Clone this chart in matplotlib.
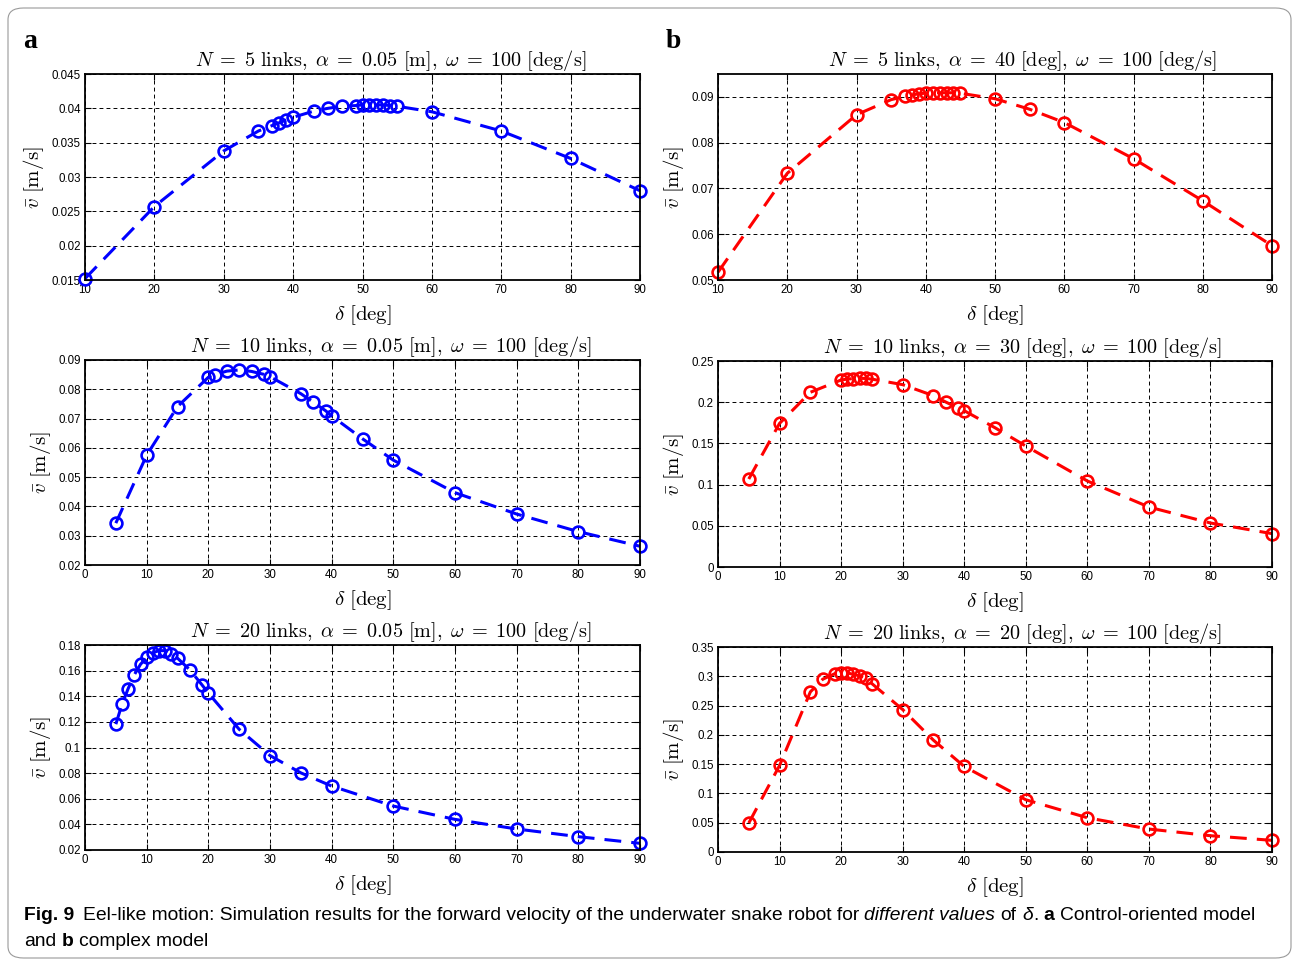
import matplotlib
matplotlib.use('Agg')
import matplotlib.pyplot as plt
from matplotlib.patches import FancyBboxPatch

plt.rcParams['mathtext.fontset'] = 'cm'
plt.rcParams['font.family'] = ['Liberation Sans', 'DejaVu Sans']

# ---- data ----
# a: control-oriented model (blue)
a1_x = [10, 20, 30, 35, 37, 38, 39, 40, 43, 45, 47, 49, 50, 51, 52, 53, 54, 55, 60, 70, 80, 90]
a1_y = [0.0152, 0.0257, 0.0338, 0.0367, 0.0375, 0.0379, 0.0383, 0.0387, 0.0396, 0.0400, 0.0403,
        0.0404, 0.0405, 0.0405, 0.0405, 0.0405, 0.0404, 0.0403, 0.0395, 0.0367, 0.0327, 0.0280]

a2_x = [5, 10, 15, 20, 21, 23, 25, 27, 29, 30, 35, 37, 39, 40, 45, 50, 60, 70, 80, 90]
a2_y = [0.0343, 0.0575, 0.0741, 0.0841, 0.0850, 0.0862, 0.0866, 0.0861, 0.0851, 0.0843,
        0.0785, 0.0756, 0.0727, 0.0709, 0.0631, 0.0558, 0.0447, 0.0374, 0.0314, 0.0264]

a3_x = [5, 6, 7, 8, 9, 10, 11, 12, 13, 14, 15, 17, 19, 20, 25, 30, 35, 40, 50, 60, 70, 80, 90]
a3_y = [0.1182, 0.1337, 0.1460, 0.1568, 0.1649, 0.1703, 0.1740, 0.1756, 0.1756, 0.1730, 0.1697,
        0.1606, 0.1487, 0.1425, 0.1142, 0.0937, 0.0802, 0.0699, 0.0543, 0.0439, 0.0364, 0.0304, 0.0252]

# b: complex model (red)
b1_x = [10, 20, 30, 35, 37, 38, 39, 40, 41, 42, 43, 44, 45, 50, 55, 60, 70, 80, 90]
b1_y = [0.0517, 0.0733, 0.0861, 0.0894, 0.0901, 0.0904, 0.0907, 0.0908, 0.0909, 0.0909, 0.0909,
        0.0909, 0.0908, 0.0896, 0.0873, 0.0844, 0.0765, 0.0673, 0.0575]

b2_x = [5, 10, 15, 20, 21, 22, 23, 24, 25, 30, 35, 37, 39, 40, 45, 50, 60, 70, 80, 90]
b2_y = [0.1068, 0.1743, 0.2120, 0.2270, 0.2280, 0.2287, 0.2290, 0.2288, 0.2280, 0.2213,
        0.2079, 0.2002, 0.1930, 0.1897, 0.1690, 0.1468, 0.1044, 0.0728, 0.0534, 0.0405]

b3_x = [5, 10, 15, 17, 19, 20, 21, 22, 23, 24, 25, 30, 35, 40, 50, 60, 70, 80, 90]
b3_y = [0.0494, 0.1477, 0.2733, 0.2949, 0.3046, 0.3050, 0.3057, 0.3034, 0.3006, 0.2972,
        0.2875, 0.2432, 0.1909, 0.1460, 0.0892, 0.0585, 0.0392, 0.0278, 0.0199]

titles = [r'$N\;=\;5\ \mathrm{links},\;\alpha\;=\;0.05\ [\mathrm{m}],\;\omega\;=\;100\ [\mathrm{deg/s}]$',
          r'$N\;=\;5\ \mathrm{links},\;\alpha\;=\;40\ [\mathrm{deg}],\;\omega\;=\;100\ [\mathrm{deg/s}]$',
          r'$N\;=\;10\ \mathrm{links},\;\alpha\;=\;0.05\ [\mathrm{m}],\;\omega\;=\;100\ [\mathrm{deg/s}]$',
          r'$N\;=\;10\ \mathrm{links},\;\alpha\;=\;30\ [\mathrm{deg}],\;\omega\;=\;100\ [\mathrm{deg/s}]$',
          r'$N\;=\;20\ \mathrm{links},\;\alpha\;=\;0.05\ [\mathrm{m}],\;\omega\;=\;100\ [\mathrm{deg/s}]$',
          r'$N\;=\;20\ \mathrm{links},\;\alpha\;=\;20\ [\mathrm{deg}],\;\omega\;=\;100\ [\mathrm{deg/s}]$']

xticks_a1 = [10, 20, 30, 40, 50, 60, 70, 80, 90]
xticks_full = [0, 10, 20, 30, 40, 50, 60, 70, 80, 90]

yt_a1 = [0.015, 0.02, 0.025, 0.03, 0.035, 0.04, 0.045]
yl_a1 = ['0.015', '0.02', '0.025', '0.03', '0.035', '0.04', '0.045']
yt_b1 = [0.05, 0.06, 0.07, 0.08, 0.09]
yl_b1 = ['0.05', '0.06', '0.07', '0.08', '0.09']
yt_a2 = [0.02, 0.03, 0.04, 0.05, 0.06, 0.07, 0.08, 0.09]
yl_a2 = ['0.02', '0.03', '0.04', '0.05', '0.06', '0.07', '0.08', '0.09']
yt_b2 = [0, 0.05, 0.1, 0.15, 0.2, 0.25]
yl_b2 = ['0', '0.05', '0.1', '0.15', '0.2', '0.25']
yt_a3 = [0.02, 0.04, 0.06, 0.08, 0.1, 0.12, 0.14, 0.16, 0.18]
yl_a3 = ['0.02', '0.04', '0.06', '0.08', '0.1', '0.12', '0.14', '0.16', '0.18']
yt_b3 = [0, 0.05, 0.1, 0.15, 0.2, 0.25, 0.3, 0.35]
yl_b3 = ['0', '0.05', '0.1', '0.15', '0.2', '0.25', '0.3', '0.35']

ylims = [(0.015, 0.045), (0.05, 0.095), (0.02, 0.09), (0, 0.25), (0.02, 0.18), (0, 0.35)]

W, H = 1293, 964
fig = plt.figure(figsize=(W / 100, H / 100), dpi=100)

# rounded frame around the whole figure
fig.patches.append(FancyBboxPatch((8 / W, 6 / H), 1283 / W, 950 / H,
                                  boxstyle='round,pad=0,rounding_size=0.012',
                                  transform=fig.transFigure, fill=False,
                                  edgecolor='#9a9a9a', linewidth=0.8))

# axes boxes in pixels: left, top, right, bottom
boxes = [(85, 74, 640, 280), (718, 74, 1272, 280),
         (85, 360, 640, 565), (718, 361, 1272, 567),
         (85, 645, 640, 850), (718, 647, 1272, 852)]

panels = [(a1_x, a1_y, 'b', xticks_a1, (10, 90), yt_a1, yl_a1),
          (b1_x, b1_y, 'r', xticks_a1, (10, 90), yt_b1, yl_b1),
          (a2_x, a2_y, 'b', xticks_full, (0, 90), yt_a2, yl_a2),
          (b2_x, b2_y, 'r', xticks_full, (0, 90), yt_b2, yl_b2),
          (a3_x, a3_y, 'b', xticks_full, (0, 90), yt_a3, yl_a3),
          (b3_x, b3_y, 'r', xticks_full, (0, 90), yt_b3, yl_b3)]

for i, (box, p) in enumerate(zip(boxes, panels)):
    l, t, r, b = box
    ax = fig.add_axes([l / W, 1 - b / H, (r - l) / W, (b - t) / H])
    xs, ys, col, xt, xlim, yt, yl = p
    line, = ax.plot(xs, ys, color=col, lw=2.2, marker='o', markersize=8.5,
                    markerfacecolor='none', markeredgewidth=1.9)
    line.set_dashes([5.5, 3.3])
    line.set_clip_on(False)
    ax.set_xlim(*xlim)
    ax.set_ylim(*ylims[i])
    ax.set_xticks(xt)
    ax.set_xticklabels([str(v) for v in xt])
    ax.set_yticks(yt)
    ax.set_yticklabels(yl)
    ax.grid(True, color='black', linestyle=(0, (4, 3.2)), linewidth=0.7)
    ax.tick_params(direction='in', top=True, right=True, labelsize=8.3, length=4, pad=3)
    for s in ax.spines.values():
        s.set_linewidth(1.3)
    ax.set_title(titles[i], fontsize=14.6, pad=6, x=0.55)
    ax.set_xlabel(r'$\delta\ [\mathrm{deg}]$', fontsize=15, labelpad=5)
    ax.set_ylabel(r'$\bar{v}\ [\mathrm{m/s}]$', fontsize=15, labelpad=4)

fig.text(30 / W, 1 - 42 / H, 'a', fontsize=20, fontweight='bold',
         family='Liberation Serif', va='center', ha='center')
fig.text(673 / W, 1 - 42 / H, 'b', fontsize=20, fontweight='bold',
         family='Liberation Serif', va='center', ha='center')

# caption, drawn as styled runs
cap_font = ['Liberation Sans Narrow', 'Liberation Sans', 'DejaVu Sans']
cap_size = 13.85
renderer = fig.canvas.get_renderer()


def runs(x, y, parts, size=cap_size):
    for txt, weight, style in parts:
        tt = fig.text(x / W, 1 - y / H, txt, fontsize=size, fontweight=weight,
                      fontstyle=style, family=cap_font, va='center', ha='left')
        x += tt.get_window_extent(renderer).width
    return x


space = fig.text(0, 0, 'a a', fontsize=cap_size, family=cap_font)
w2 = space.get_window_extent(renderer).width
space.set_text('aa')
sw = w2 - space.get_window_extent(renderer).width
space.remove()

x = runs(24, 916, [('Fig. 9', 'bold', 'normal')])
x = runs(x + sw * 1.6, 916, [('Eel-like motion: Simulation results for the forward velocity of the underwater snake robot for', 'normal', 'normal')])
x = runs(x + sw, 916, [('different values', 'normal', 'italic')])
x = runs(x + sw, 916, [('of', 'normal', 'normal')])
x = runs(x + sw, 916, [('δ', 'normal', 'italic'), ('.', 'normal', 'normal')])
x = runs(x + sw, 916, [('a', 'bold', 'normal')])
x = runs(x + sw, 916, [('Control-oriented model', 'normal', 'normal')])
x = runs(24, 942, [('and', 'normal', 'normal')])
x = runs(x + sw, 942, [('b', 'bold', 'normal')])
x = runs(x + sw, 942, [('complex model', 'normal', 'normal')])

fig.savefig('out.png', dpi=100)
